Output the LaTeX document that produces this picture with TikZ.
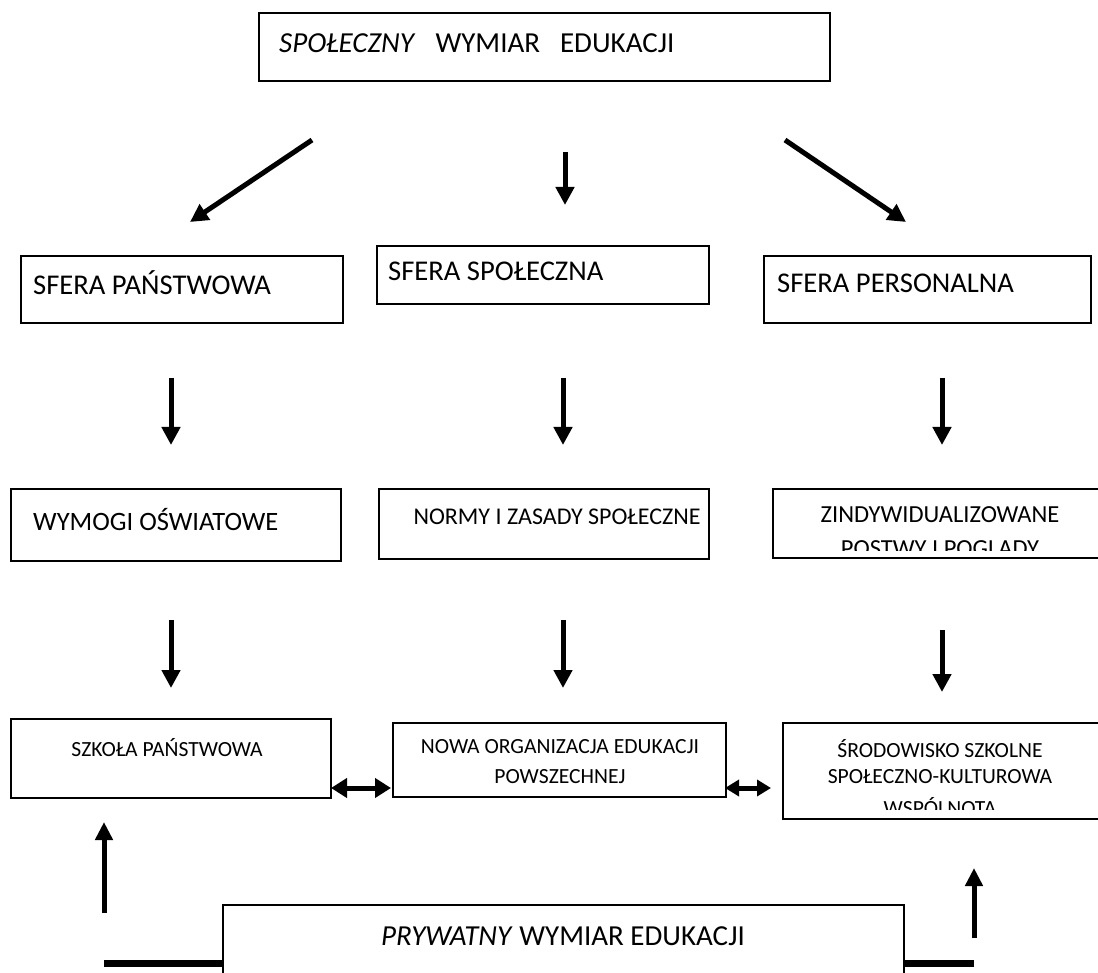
\documentclass[tikz,border=0pt]{standalone}
\usepackage{fontspec}
\setmainfont{Carlito}
\usetikzlibrary{arrows.meta}
\begin{document}
\begin{tikzpicture}[x=1pt,y=-1pt,
  box/.style={draw, line width=1.6pt, inner sep=0pt, anchor=north west},
  lbl/.style={inner sep=0pt, anchor=west},
  clbl/.style={inner sep=0pt, anchor=center},
  fA/.style={font=\fontsize{29}{33}\selectfont},
  fB/.style={font=\fontsize{28.6}{32}\selectfont},
  fC/.style={font=\fontsize{26.5}{30}\selectfont},
  fN/.style={font=\fontsize{24}{28}\selectfont},
  fD/.style={font=\fontsize{24.5}{28}\selectfont},
  fE/.style={font=\fontsize{21.6}{25}\selectfont},
  arr/.style={line width=5pt, -{Triangle[length=18pt,width=18pt]}},
  uparr/.style={line width=5pt, -{Triangle[length=18pt,width=17pt]}},
  dblarr/.style={line width=5pt, {Triangle[length=16pt,width=19pt]}-{Triangle[length=16pt,width=19pt]}},
  dblarrb/.style={line width=5pt, {Triangle[length=14pt,width=16pt]}-{Triangle[length=14pt,width=16pt]}},
  bar/.style={line width=7pt}]
\clip (0,0) rectangle (1098,973);
\useasboundingbox (0,0) rectangle (1098,973);

% top box
\node[box, minimum width=571pt, minimum height=68pt] (top) at (258,12) {};
\node[lbl, fA] (topt) at (279,43) {\textit{SPOŁECZNY}\hspace{20pt}WYMIAR\hspace{20pt}EDUKACJI};

% arrows from top
\coordinate (a1s) at (312,140); \coordinate (a1e) at (190,222);
\coordinate (a2s) at (565,152); \coordinate (a2e) at (565,205);
\coordinate (a3s) at (785,140); \coordinate (a3e) at (906,222);
\draw[arr] (a1s) -- (a1e);
\draw[arr] (a2s) -- (a2e);
\draw[arr] (a3s) -- (a3e);

% row 2
\node[box, minimum width=322pt, minimum height=67pt] (b21) at (20,255) {};
\node[lbl, fB] (t21) at (33,283) {SFERA PAŃSTWOWA};
\node[box, minimum width=332pt, minimum height=58pt] (b22) at (376,245) {};
\node[lbl, fB] (t22) at (388,271) {SFERA SPOŁECZNA};
\node[box, minimum width=327pt, minimum height=67pt] (b23) at (763,255) {};
\node[lbl, fB] (t23) at (777,283) {SFERA PERSONALNA};

% arrows row 2 -> 3
\coordinate (c1s) at (171,378); \coordinate (c1e) at (171,445);
\coordinate (c2s) at (563,378); \coordinate (c2e) at (563,445);
\coordinate (c3s) at (942,378); \coordinate (c3e) at (942,445);
\draw[arr] (c1s) -- (c1e);
\draw[arr] (c2s) -- (c2e);
\draw[arr] (c3s) -- (c3e);

% row 3
\node[box, minimum width=330pt, minimum height=72pt] (b31) at (10,488) {};
\node[lbl, fC] (t31) at (33,520) {WYMOGI OŚWIATOWE};
\node[box, minimum width=330pt, minimum height=70pt] (b32) at (378,488) {};
\node[clbl, fN] (t32) at (557,517) {NORMY I ZASADY SPOŁECZNE};
\node[box, minimum width=340pt, minimum height=69pt] (b33) at (772,488) {};
\begin{scope}
  \clip (b33.north west) rectangle ([yshift=8pt]b33.south east);
  \node[clbl, fD] (t33a) at (940,515) {ZINDYWIDUALIZOWANE};
  \node[clbl, fD] (t33b) at (940,549) {POSTWY I POGLADY};
\end{scope}

% arrows row 3 -> 4
\coordinate (d1s) at (171,620); \coordinate (d1e) at (171,688);
\coordinate (d2s) at (563,620); \coordinate (d2e) at (563,688);
\coordinate (d3s) at (942,630); \coordinate (d3e) at (942,692);
\draw[arr] (d1s) -- (d1e);
\draw[arr] (d2s) -- (d2e);
\draw[arr] (d3s) -- (d3e);

% row 4
\node[box, minimum width=320pt, minimum height=79pt] (b41) at (10,718) {};
\node[clbl, fE] (t41) at (167,748) {SZKOŁA PAŃSTWOWA};
\node[box, minimum width=333pt, minimum height=74pt] (b42) at (392,722) {};
\node[clbl, fE] (t42a) at (560,747) {NOWA ORGANIZACJA EDUKACJI};
\node[clbl, fE] (t42b) at (560,777) {POWSZECHNEJ};
\node[box, minimum width=330pt, minimum height=96pt] (b43) at (782,722) {};
\begin{scope}
  \clip (b43.north west) rectangle ([yshift=10pt]b43.south east);
  \node[clbl, fE] (t43a) at (940,749) {ŚRODOWISKO SZKOLNE};
  \node[clbl, fE] (t43b) at (940,777) {SPOŁECZNO-KULTUROWA};
  \node[clbl, fE] (t43c) at (940,807) {WSPÓLNOTA};
\end{scope}

% double arrows
\coordinate (e1) at (331,788); \coordinate (e2) at (391,788);
\coordinate (e3) at (725,788); \coordinate (e4) at (771,788);
\draw[dblarr] (e1) -- (e2);
\draw[dblarrb] (e3) -- (e4);

% bottom box
\node[box, minimum width=681pt, minimum height=110pt] (bot) at (222,904) {};
\node[clbl, fA] (bott) at (563,936) {\textit{PRYWATNY} WYMIAR EDUKACJI};

% up arrows
\coordinate (u1s) at (104,913); \coordinate (u1e) at (104,822);
\coordinate (u2s) at (974,938); \coordinate (u2e) at (974,868);
\draw[uparr] (u1s) -- (u1e);
\draw[uparr] (u2s) -- (u2e);

% bars
\coordinate (l1) at (104,963); \coordinate (l2) at (974,963);
\draw[bar] (l1) -- (l1 -| bot.west);
\draw[bar] (l2 -| bot.east) -- (l2);
\end{tikzpicture}
\end{document}
